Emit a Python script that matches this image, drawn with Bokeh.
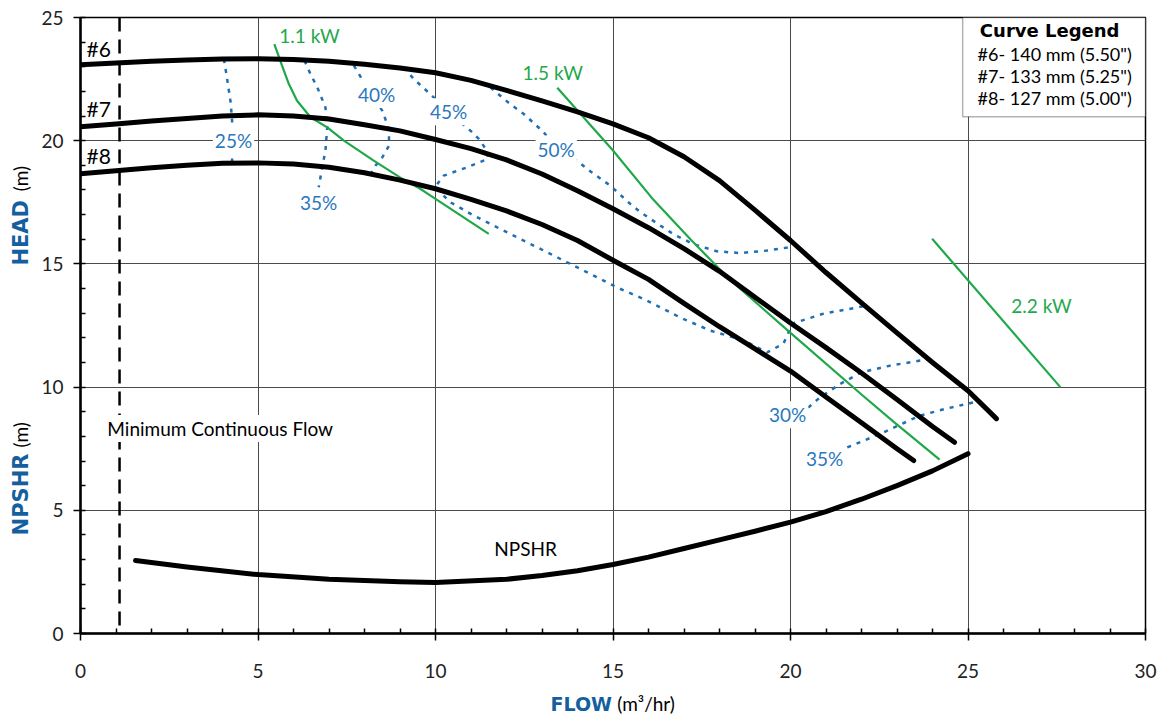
import math
from bokeh.plotting import figure
from bokeh.models import Range1d, SingleIntervalTicker, Label, Span, BoxAnnotation
from bokeh.layouts import row, column
from bokeh.core.properties import value
from bokeh.embed import file_html
from bokeh.resources import INLINE

# ---------------- data ----------------
flow6 = [0, 1, 2, 3, 4, 5, 6, 7, 8, 9, 10, 11, 12, 13, 14, 15, 16, 17, 18, 19, 20, 21, 22, 23, 24, 25, 25.8]
head6 = [23.08, 23.15, 23.22, 23.28, 23.32, 23.33, 23.30, 23.22, 23.10, 22.95, 22.76, 22.45, 22.04, 21.62,
         21.17, 20.68, 20.12, 19.35, 18.38, 17.18, 15.95, 14.65, 13.42, 12.20, 11.00, 9.85, 8.72]

flow7 = [0, 1, 2, 3, 4, 5, 6, 7, 8, 9, 10, 11, 12, 13, 14, 15, 16, 17, 18, 19, 20, 21, 22, 23, 24, 24.62]
head7 = [20.57, 20.68, 20.80, 20.90, 21.00, 21.05, 21.00, 20.88, 20.65, 20.40, 20.05, 19.68, 19.22, 18.65,
         17.97, 17.24, 16.47, 15.62, 14.70, 13.65, 12.60, 11.60, 10.57, 9.50, 8.40, 7.76]

flow8 = [0, 1, 2, 3, 4, 5, 6, 7, 8, 9, 10, 11, 12, 13, 14, 15, 16, 17, 18, 19, 20, 21, 22, 23, 23.47]
head8 = [18.66, 18.78, 18.90, 19.00, 19.08, 19.10, 19.05, 18.92, 18.70, 18.40, 18.05, 17.62, 17.15, 16.60,
         15.95, 15.15, 14.37, 13.40, 12.45, 11.55, 10.65, 9.60, 8.55, 7.50, 7.02]

flow_npshr = [1.55, 3, 5, 7, 9, 10, 12, 13, 14, 15, 16, 17, 18, 19, 20, 21, 22, 23, 24, 25]
npshr = [2.96, 2.70, 2.39, 2.20, 2.10, 2.07, 2.20, 2.35, 2.55, 2.80, 3.10, 3.45, 3.80, 4.15, 4.52,
         4.95, 5.45, 6.00, 6.60, 7.30]

kw11_flow = [5.46, 5.68, 5.87, 6.10, 6.48, 6.95, 7.42, 8.26, 9.01, 9.58, 9.86, 11.50]
kw11_head = [23.92, 23.04, 22.30, 21.62, 20.95, 20.54, 20.00, 19.19, 18.50, 18.04, 17.77, 16.22]

kw15_flow = [13.43, 15.00, 16.14, 17.18, 18.30, 20.00, 22.00, 22.90, 24.20]
kw15_head = [22.15, 19.60, 17.60, 16.00, 14.35, 12.20, 9.70, 8.60, 7.06]

kw22_flow = [23.99, 27.60]
kw22_head = [16.02, 10.00]

eff25_flow = [4.04, 4.11, 4.23, 4.27, 4.27]
eff25_head = [23.31, 22.70, 21.55, 20.81, 19.05]

eff35a_flow = [6.31, 6.48, 6.67, 6.90, 6.95, 6.90, 6.81, 6.71]
eff35a_head = [23.25, 22.70, 22.17, 21.35, 20.54, 19.60, 18.92, 18.11]

eff40_flow = [7.70, 7.93, 8.20, 8.50, 8.69, 8.69, 8.50, 8.31, 8.12]
eff40_head = [23.05, 22.50, 21.85, 21.22, 20.47, 19.80, 19.32, 18.99, 18.51]

eff45_flow = [9.11, 9.39, 9.90, 10.37, 10.99, 11.22, 11.45, 11.47, 10.89, 10.23, 9.98, 10.14, 10.42,
              11.08, 11.74, 12.39, 13.05, 13.71, 14.37, 15.12, 15.87, 16.90, 17.75, 18.69, 19.34,
              19.80, 20.06, 20.93, 22.17]
eff45_head = [22.97, 22.50, 21.83, 21.15, 20.40, 20.07, 19.60, 19.26, 18.92, 18.58, 18.11, 17.90, 17.50,
              16.96, 16.48, 16.01, 15.54, 15.06, 14.59, 14.04, 13.57, 12.82, 12.29, 11.89, 11.41,
              11.76, 12.58, 12.98, 13.31]

eff50_flow = [11.55, 12.11, 12.49, 13.05, 13.40, 13.99, 14.32, 14.93, 15.49, 15.77, 16.34, 16.71,
              17.27, 17.93, 18.59, 19.34, 19.95]
eff50_head = [22.16, 21.48, 21.08, 20.34, 19.66, 19.19, 18.80, 18.17, 17.43, 17.10, 16.55, 16.20,
              15.80, 15.51, 15.44, 15.54, 15.67]

eff30_flow = [20.50, 20.83, 21.40, 22.00, 22.80, 23.84]
eff30_head = [9.17, 9.58, 10.13, 10.60, 10.87, 11.12]

eff35b_flow = [21.60, 22.60, 23.64, 24.40, 25.25]
eff35b_head = [7.55, 8.15, 8.84, 9.13, 9.41]

min_flow = 1.1

legend_title = "Curve Legend"
legend_lines = ['#6- 140 mm (5.50")', '#7- 133 mm (5.25")', '#8- 127 mm (5.00")']

# ---------------- styles ----------------
FONT = "Lato"
BLUE = "#1f6fb2"
BLUE_T = "#2a78bd"
GREEN = "#1fa84a"
TITLE_BLUE = "#14609f"

FW, FH = 1065, 616          # frame size
TOP, BOT = 17, 56           # borders of main figure
LEFT_STRIP = 36

common = dict(output_backend="svg", toolbar_location=None)

p = figure(frame_width=FW, frame_height=FH, x_range=Range1d(0, 30), y_range=Range1d(0, 25),
           min_border_left=80 - LEFT_STRIP, min_border_right=13, min_border_top=TOP,
           min_border_bottom=BOT, **common)
p.background_fill_color = "white"
p.border_fill_color = "white"
p.outline_line_color = "black"
p.outline_line_width = 1.5

xt = SingleIntervalTicker(interval=5, num_minor_ticks=5)
yt = SingleIntervalTicker(interval=5, num_minor_ticks=5)
p.xaxis.ticker = xt
p.yaxis.ticker = yt
p.xgrid.ticker = xt
p.ygrid.ticker = yt
p.grid.grid_line_color = "#4a4a4a"
p.grid.grid_line_width = 1

for ax in (p.xaxis, p.yaxis):
    ax.axis_line_width = 2.5
    ax.axis_line_color = "black"
    ax.major_tick_line_color = "black"
    ax.major_tick_line_width = 1.5
    ax.minor_tick_line_color = "black"
    ax.minor_tick_line_width = 1.5
    ax.major_tick_in = 0
    ax.major_tick_out = 7
    ax.minor_tick_in = 5
    ax.minor_tick_out = 0
    ax.major_label_text_font = FONT
    ax.major_label_text_font_size = "19px"
    ax.major_label_text_color = "#222222"
p.xaxis.major_label_standoff = 23
p.yaxis.major_label_standoff = 10

# efficiency contours
dot = dict(line_color=BLUE, line_width=2.5, line_dash="4 6")
for fx, fy in [(eff25_flow, eff25_head), (eff35a_flow, eff35a_head), (eff40_flow, eff40_head),
               (eff45_flow, eff45_head), (eff50_flow, eff50_head), (eff30_flow, eff30_head),
               (eff35b_flow, eff35b_head)]:
    p.line(fx, fy, **dot)

# power lines
for fx, fy in [(kw11_flow, kw11_head), (kw15_flow, kw15_head), (kw22_flow, kw22_head)]:
    p.line(fx, fy, line_color=GREEN, line_width=2.2)

# pump curves
for fx, fy in [(flow6, head6), (flow7, head7), (flow8, head8), (flow_npshr, npshr)]:
    p.line(fx, fy, line_color="black", line_width=5, line_cap="round", line_join="round")

# minimum continuous flow
p.add_layout(Span(location=min_flow, dimension="height", line_color="black",
                  line_width=2.5, line_dash="14 8"))


def lab(x, y, text, color="black", size="19px", align="center", bg=None, font=FONT,
        style="normal", baseline="middle"):
    kw = {}
    if bg:
        kw = dict(background_fill_color=bg, padding=2)
    p.add_layout(Label(x=x, y=y, text=text, text_color=color, text_font_size=size,
                       text_align=align, text_baseline=baseline, text_font=font,
                       text_font_style=style, **kw))


lab(0.7, 8.32, "Minimum Continuous Flow", align="left", bg="white", size="19px")
lab(0.17, 23.73, "#6", align="left", size="21px")
lab(0.17, 21.3, "#7", align="left", size="21px")
lab(0.17, 19.39, "#8", align="left", size="21px")
lab(12.54, 3.45, "NPSHR", size="19px")

# efficiency labels
for x, y, t in [(4.31, 20.0, "25%"), (6.71, 17.5, "35%"), (8.34, 21.87, "40%"), (10.37, 21.17, "45%"),
                (13.4, 19.66, "50%"), (19.92, 8.88, "30%"), (20.96, 7.1, "35%")]:
    lab(x, y, t, color=BLUE_T, bg="white", size="19px")

# power labels
lab(6.45, 24.26, "1.1 kW", color=GREEN, size="19px")
lab(13.3, 22.77, "1.5 kW", color=GREEN, size="19px")
lab(27.07, 13.31, "2.2 kW", color=GREEN, size="19px")

# legend box
p.add_layout(BoxAnnotation(left=24.85, right=30, bottom=20.97, top=25, fill_color="white",
                           fill_alpha=1, line_color="black", line_width=1.5, level="annotation"))
lab(27.3, 24.46, legend_title, size="18px", font="DejaVu Sans", style="bold")
p.segment(x0=[25.3], y0=[24.17], x1=[29.3], y1=[24.17], line_color="black", line_width=1.5,
          level="annotation")
for i, t in enumerate(legend_lines):
    lab(25.27, 23.53 - 0.89 * i, t, align="left", size="18px")

# ---------------- axis title strips ----------------
left = figure(width=LEFT_STRIP, frame_height=FH, x_range=Range1d(0, LEFT_STRIP), y_range=Range1d(0, 25),
              min_border_left=0, min_border_right=0, min_border_top=TOP, min_border_bottom=BOT,
              x_axis_location=None, y_axis_location=None, **common)
left.outline_line_color = None
left.grid.visible = False
ang = math.pi / 2
left.text(x=[20], y=[14.93], text=["HEAD"], angle=ang, text_align="left", text_baseline="middle",
          text_font=value("DejaVu Sans"), text_font_style="bold", text_font_size="21px",
          text_color=TITLE_BLUE)
left.text(x=[20], y=[17.95], text=["(m)"], angle=ang, text_align="left", text_baseline="middle",
          text_font=value(FONT), text_font_size="19px", text_color="black")
left.text(x=[20], y=[3.98], text=["NPSHR"], angle=ang, text_align="left", text_baseline="middle",
          text_font=value("DejaVu Sans"), text_font_style="bold", text_font_size="21px",
          text_color=TITLE_BLUE)
left.text(x=[20], y=[7.55], text=["(m)"], angle=ang, text_align="left", text_baseline="middle",
          text_font=value(FONT), text_font_size="19px", text_color="black")

STRIP_H = 715 - (TOP + FH + BOT)
bottom = figure(frame_width=FW, height=STRIP_H, x_range=Range1d(0, 30), y_range=Range1d(0, 1),
                min_border_left=80, min_border_right=13, min_border_top=0, min_border_bottom=0,
                x_axis_location=None, y_axis_location=None, **common)
bottom.outline_line_color = None
bottom.grid.visible = False
bottom.text(x=[13.24], y=[0.46], text=["FLOW"], text_align="left", text_baseline="middle",
            text_font=value("DejaVu Sans"), text_font_style="bold", text_font_size="19px",
            text_color=TITLE_BLUE)
bottom.text(x=[15.12], y=[0.46], text=["(m³/hr)"], text_align="left", text_baseline="middle",
            text_font=value(FONT), text_font_size="19px", text_color="black")

layout = column(row(left, p), bottom)
open("out.html", "w").write(file_html(layout, INLINE))
